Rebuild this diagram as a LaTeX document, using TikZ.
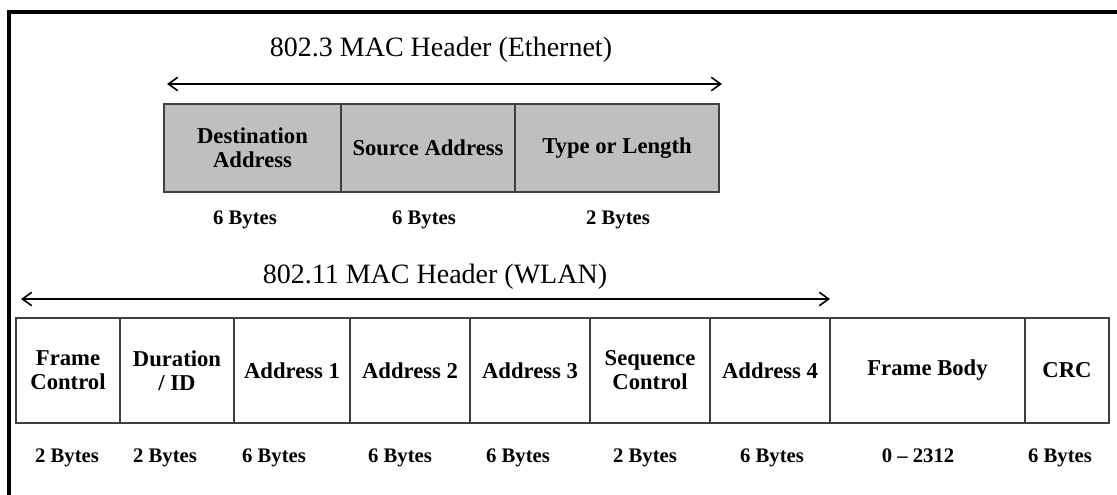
\documentclass[tikz,border=0pt]{standalone}
\usepackage{fontspec}
\setmainfont{Liberation Serif}
\usetikzlibrary{arrows,arrows.meta,calc,positioning}

\def\pxu{0.75pt}

\begin{document}
\begin{tikzpicture}[x=0.75pt,y=-0.75pt]
		\tikzstyle{field}=[draw=black!75,line width=1pt,outer sep=0pt,inner sep=0pt,align=center,font=\bfseries\fontsize{17}{18}\selectfont]
		\tikzstyle{ethfield}=[field,fill=black!25,minimum height=88*\pxu]
		\tikzstyle{wlanfield}=[field,minimum height=105*\pxu]
		\tikzstyle{bytes}=[inner sep=0pt,anchor=base,font=\bfseries\fontsize{15.5}{16}\selectfont]
		\tikzstyle{title}=[inner sep=0pt,anchor=base,font=\fontsize{21}{23}\selectfont]
		\tikzstyle{span}=[{Straight Barb[length=7pt,width=10pt]}-{Straight Barb[length=7pt,width=10pt]},line width=1.2pt]

		\useasboundingbox (0,0) rectangle (1117,495);
		%frame
		\draw[line width=3pt] (1117,12) -- (9,12) -- (9,495);

		%ethernet header
		\node[title] (ethT) at (441,57) {802.3 MAC Header (Ethernet)};
		\coordinate (ethL) at (167,84);
		\coordinate (ethR) at (722,84);
		\draw[span] (ethL) -- (ethR);
		\node[ethfield,minimum width=177*\pxu,anchor=north west] (dst) at (164,104) {Destination\\Address};
		\node[ethfield,minimum width=174*\pxu,right=0pt of dst] (src) {Source Address};
		\node[ethfield,minimum width=204*\pxu,right=0pt of src] (type) {Type or Length};
		\node[bytes] (dstB) at (245,225) {6 Bytes};
		\node[bytes] (srcB) at (424,225) {6 Bytes};
		\node[bytes] (typeB) at (618,225) {2 Bytes};

		%wlan header
		\node[title] (wlanT) at (435,284) {802.11 MAC Header (WLAN)};
		\coordinate (wlanL) at (21,299);
		\coordinate (wlanR) at (830,299);
		\draw[span] (wlanL) -- (wlanR);
		\node[wlanfield,minimum width=104*\pxu,anchor=north west] (fc) at (16,318) {Frame\\Control};
		\node[wlanfield,minimum width=114*\pxu,right=0pt of fc] (dur) {Duration\\/ ID};
		\node[wlanfield,minimum width=116*\pxu,right=0pt of dur] (addrA) {Address 1};
		\node[wlanfield,minimum width=120*\pxu,right=0pt of addrA] (addrB) {Address 2};
		\node[wlanfield,minimum width=120*\pxu,right=0pt of addrB] (addrC) {Address 3};
		\node[wlanfield,minimum width=120*\pxu,right=0pt of addrC] (seq) {Sequence\\Control};
		\node[wlanfield,minimum width=120*\pxu,right=0pt of seq] (addrD) {Address 4};
		\node[wlanfield,minimum width=195*\pxu,right=0pt of addrD] (body) {Frame Body};
		\node[wlanfield,minimum width=84*\pxu,right=0pt of body] (crc) {CRC};

		%lengths
		\node[bytes] (fcB) at (67,462) {2 Bytes};
		\node[bytes] (durB) at (165,462) {2 Bytes};
		\node[bytes] (addrAB) at (274,462) {6 Bytes};
		\node[bytes] (addrBB) at (400,462) {6 Bytes};
		\node[bytes] (addrCB) at (518,462) {6 Bytes};
		\node[bytes] (seqB) at (645,462) {2 Bytes};
		\node[bytes] (addrDB) at (772,462) {6 Bytes};
		\node[bytes] (bodyB) at (918,462) {0 -- 2312};
		\node[bytes] (crcB) at (1060,462) {6 Bytes};
	\end{tikzpicture}
\end{document}
